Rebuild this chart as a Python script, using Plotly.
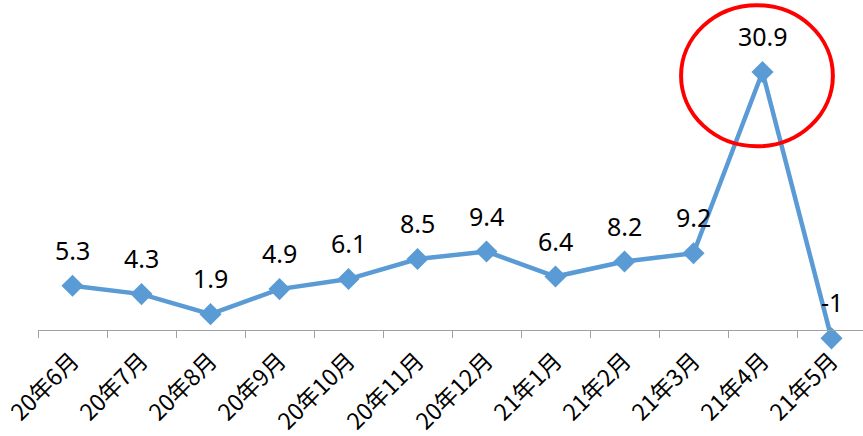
import plotly.graph_objects as go

months = ["20年6月", "20年7月", "20年8月", "20年9月", "20年10月", "20年11月",
          "20年12月", "21年1月", "21年2月", "21年3月", "21年4月", "21年5月"]
values = [5.3, 4.3, 1.9, 4.9, 6.1, 8.5, 9.4, 6.4, 8.2, 9.2, 30.9, -1]
labels = ["5.3", "4.3", "1.9", "4.9", "6.1", "8.5", "9.4", "6.4", "8.2", "9.2", "30.9", "-1"]

BLUE = "#5B9BD5"
W, H = 863, 436
mt, mb = 0, 86
ph = H - mt - mb
k = 8.35                # px per unit
zero_px = 330
ytop = zero_px / k
ybot = ytop - ph / k

fig = go.Figure()
fig.add_trace(go.Scatter(
    x=months, y=values, mode="lines+markers",
    line=dict(color=BLUE, width=4.5),
    marker=dict(symbol="diamond", size=17, color=BLUE),
    cliponaxis=False, hoverinfo="skip",
))

for m, v, t in zip(months, values, labels):
    fig.add_annotation(x=m, y=v, text=t, showarrow=False, yshift=36,
                       font=dict(size=25, color="black", family="Noto Sans"))

# highlight ellipse around the peak
peak_i = values.index(max(values))
fig.add_shape(type="circle", xref="x", yref="y",
              x0=peak_i - 1.18, x1=peak_i + 1.02,
              y0=22.0, y1=38.9,
              line=dict(color="#FF0000", width=4))

fig.update_xaxes(
    type="category", range=[-0.5, 11.5 - 3 / 69], automargin=False,
    anchor="free", position=(ph - zero_px) / ph,
    showline=True, linecolor="#A0A0A0", linewidth=1.3,
    ticks="outside", tickson="boundaries", ticklen=7, tickcolor="#A0A0A0", tickwidth=1.3,
    ticklabelstandoff=7,
    tickangle=-45, showgrid=False, zeroline=False,
    tickfont=dict(size=23, color="black", family="Noto Sans CJK SC"),
)
fig.update_yaxes(range=[ybot, ytop], visible=False, showgrid=False, zeroline=False,
                 automargin=False)

fig.update_layout(
    width=W, height=H,
    margin=dict(l=38, r=0, t=mt, b=mb, autoexpand=False),
    paper_bgcolor="white", plot_bgcolor="white",
    showlegend=False,
)

fig.write_html("out.html", config={"displayModeBar": False},
               post_script="document.body.style.margin='0';")
